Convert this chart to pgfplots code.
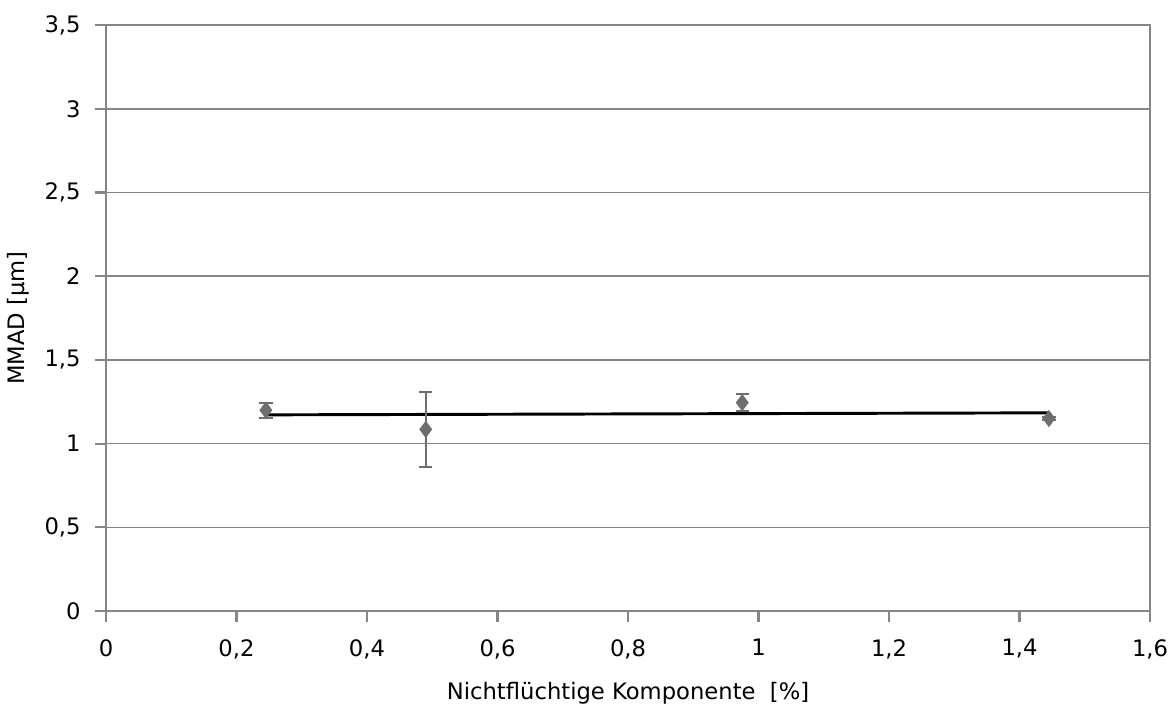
\documentclass[border=0pt]{standalone}
\usepackage{pgfplots}
\pgfplotsset{compat=1.18}
\usepackage{fontspec}
\setmainfont{DejaVu Sans}
\definecolor{gridgray}{RGB}{134,134,134}
\definecolor{markgray}{RGB}{110,110,110}
\begin{document}
\begin{tikzpicture}
\begin{axis}[
  scale only axis,
  width=391.5pt, height=219.75pt,
  xmin=0, xmax=1.6, ymin=0, ymax=3.5,
  xtick={0,0.2,0.4,0.6,0.8,1,1.2,1.4,1.6}, ytick={0,0.5,1,1.5,2,2.5,3,3.5},
  /pgf/number format/use comma,
  /pgf/number format/fixed,
  /pgf/number format/assume math mode=true,
  font=\fontsize{8.5}{10}\selectfont,
  tick label style={font=\fontsize{8.5}{10}\selectfont},
  xticklabel style={yshift=-3pt},
  yticklabel style={xshift=-2pt},
  ymajorgrids,
  grid style={gridgray, line width=0.6pt},
  axis line style={gridgray, line width=0.8pt},
  tick style={gridgray, line width=0.8pt},
  tick align=outside,
  major tick length=4pt,
  xtick pos=bottom, ytick pos=left,
  xlabel={Nichtflüchtige Komponente\ \ [\%]},
  ylabel={MMAD [µm]},
  xlabel style={yshift=-2pt},
  ylabel style={yshift=-1pt},
]
\coordinate (sw) at (rel axis cs:0,0);
\coordinate (ne) at (rel axis cs:1,1);
\addplot[black, line width=1.1pt, no marks] coordinates {(0.245,1.172) (1.445,1.184)};
\addplot[only marks, mark=diamond*, mark size=2.9pt, color=markgray,
  error bars/.cd, y dir=both, y explicit,
  error bar style={markgray, line width=0.8pt},
  error mark options={rotate=90, mark size=2.5pt, markgray, line width=0.8pt}]
  coordinates {
  (0.245,1.20) +- (0,0.045)
  (0.49,1.085) +- (0,0.222)
  (0.975,1.245) +- (0,0.05)
  (1.445,1.15) +- (0,0.01)
};
\end{axis}
\pgfresetboundingbox
\path ([shift={(-39.75pt,-34.9pt)}]sw) rectangle ([shift={(8.6pt,9.4pt)}]ne);
\end{tikzpicture}
\end{document}
